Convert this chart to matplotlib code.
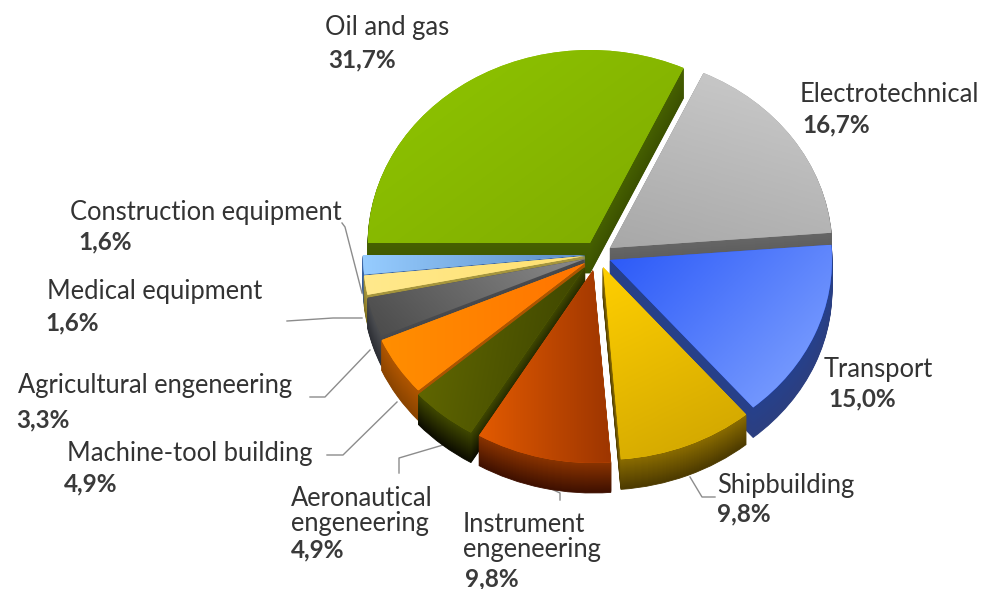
import numpy as np
import matplotlib
matplotlib.use('Agg')
import matplotlib.pyplot as plt
from matplotlib.colors import LinearSegmentedColormap, to_rgb
from matplotlib.patches import Wedge

names = ['Oil and gas', 'Electrotechnical', 'Transport', 'Shipbuilding', 'Instrument\nengeneering',
         'Aeronautical\nengeneering', 'Machine-tool building', 'Agricultural engeneering',
         'Medical equipment', 'Construction equipment']
values = [31.7, 16.7, 15.0, 9.8, 9.8, 4.9, 4.9, 3.3, 1.6, 1.6]

# layout, all in image pixels
W, H = 988, 589
RX, RY = 222, 193
DEPTH = 30
centers = [(590, 243), (610, 248), (610, 260), (603, 267), (593, 270),
           (585, 267), (585, 263), (585, 259), (585, 256), (585, 255)]
draw_order = [0, 1, 9, 8, 7, 6, 5, 2, 3, 4]

# top gradient: start colour, end colour, direction in degrees
top_styles = [('#8ec600', '#80aa00', -40), ('#a8a8a8', '#cccccc', 70), ('#2a58f8', '#84a6ff', -35),
              ('#ffcf00', '#cea400', -70), ('#e25a00', '#9e3600', 0), ('#646a00', '#3a4200', -10),
              ('#ff8e00', '#ff7400', 0), ('#4a4a4a', '#8a8a8a', 20), ('#ffe98c', '#ffe070', 0),
              ('#96ccff', '#5a8cc4', 0)]
wall_styles = [('#466000', '#3c5200'), ('#666666', '#555555'), ('#26408c', '#2c3f80'),
               ('#8a6c00', '#4c3a00'), ('#8a3400', '#3e1000'), ('#404800', '#0c0c00'),
               ('#b05600', '#8a4400'), ('#4a4c50', '#2c2e34'), ('#a89840', '#807020'),
               ('#3c68a8', '#2c5090')]

label_pos = [(325, 28), (800, 94), (824, 370), (717, 486), (463, 537), (291, 511),
             (67, 454), (18, 386), (47, 292), (70, 212)]
pct_pos = [(328, 60), (802, 125), (828, 399), (717, 514), (465, 579), (291, 550),
           (64, 484), (16, 420), (45, 323), (78, 242)]
leaders = [[(342, 223), (345, 227), (362, 293)],
           [(287, 321), (333, 318), (362, 318)],
           [(310, 397), (325, 397), (370, 350)],
           [(327, 455), (343, 455), (397, 402)],
           [(399, 473), (399, 458), (443, 445)],
           [(547, 487), (560, 493), (560, 500)],
           [(690, 477), (702, 497), (715, 497)]]


def to_data(x, y):
    return x / RX, (H - y) / RY


fig = plt.figure(figsize=(W / 100, H / 100), dpi=100)
ax = fig.add_axes([0, 0, 1, 1])

wedges, _ = ax.pie(values, startangle=180, counterclock=False, radius=1)
ax.set_aspect('auto')

# side walls, stacked one pixel at a time
for n, i in enumerate(draw_order):
    w = wedges[i]
    c0, c1 = to_rgb(wall_styles[i][0]), to_rgb(wall_styles[i][1])
    for d in range(DEPTH, 0, -1):
        t = d / DEPTH
        col = tuple(a + (b - a) * t for a, b in zip(c0, c1))
        ax.add_patch(Wedge(to_data(centers[i][0], centers[i][1] + d), 1, w.theta1, w.theta2,
                           facecolor=col, edgecolor=col, linewidth=0.6, zorder=2 + n))

# top faces, gradient clipped to the pie wedge
for n, i in enumerate(draw_order):
    w = wedges[i]
    w.set_center(to_data(*centers[i]))
    w.set_facecolor(top_styles[i][0])
    w.set_linewidth(0)
    w.set_zorder(50 + n * 2)
    a = np.radians(top_styles[i][2])
    yy, xx = np.mgrid[0:1:64j, 0:1:64j]
    grad = xx * np.cos(a) - yy * np.sin(a)
    cmap = LinearSegmentedColormap.from_list('g', top_styles[i][:2])
    box = w.get_path().get_extents()
    im = ax.imshow(grad, cmap=cmap, origin='upper', aspect='auto', interpolation='bilinear',
                   extent=(box.x0, box.x1, box.y0, box.y1), zorder=51 + n * 2)
    im.set_clip_path(w)

ax.set_xlim(0, W / RX)
ax.set_ylim(0, H / RY)
ax.axis('off')

for pts in leaders:
    d = [to_data(*p) for p in pts]
    ax.plot([p[0] for p in d], [p[1] for p in d], color='#8c8c8c', lw=1.0, zorder=1)

for i in range(len(names)):
    x, y = label_pos[i]
    fig.text(x / W, 1 - y / H, names[i], family='Lato', fontsize=18.4, color='#333333',
             ha='left', va='center', linespacing=0.96)
    x, y = pct_pos[i]
    pct = f'{values[i]:.1f}'.replace('.', ',') + '%'
    fig.text(x / W, 1 - y / H, pct, family='Lato', fontsize=17.5, fontweight='bold',
             color='#3a3a3a', ha='left', va='center')

plt.savefig('out.png', dpi=100)
